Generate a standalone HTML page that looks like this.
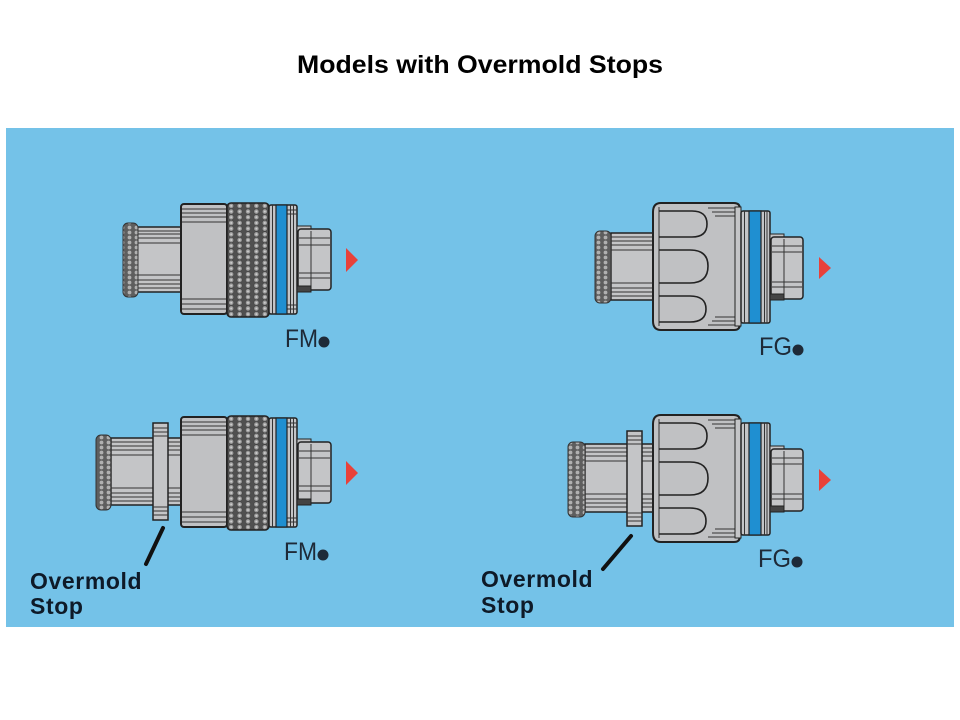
<!DOCTYPE html>
<html><head><meta charset="utf-8">
<style>
html,body{margin:0;padding:0;background:#fff;width:960px;height:720px;overflow:hidden}
svg{display:block}
</style></head><body>
<svg width="960" height="720" viewBox="0 0 960 720" xmlns="http://www.w3.org/2000/svg">
<defs>
<pattern id="kn" width="8.4" height="5.7" patternUnits="userSpaceOnUse" x="227" y="203">
<rect width="8.4" height="5.7" fill="#505050"/>
<circle cx="4.2" cy="2.85" r="2.6" fill="#9c9c9c" stroke="#3a3a3a" stroke-width="0.5"/>
<circle cx="4.2" cy="2.85" r="1" fill="#d0d0d0"/>
</pattern>
<pattern id="kr" width="7" height="5" patternUnits="userSpaceOnUse">
<rect width="7" height="5" fill="#5e5e5e"/>
<circle cx="3.5" cy="2.5" r="1.9" fill="#b0b0b0"/>
</pattern>
<g id="fmf">
 <rect x="181" y="204" width="46" height="110" rx="3" fill="#c0c1c3" stroke="#222" stroke-width="2"/>
 <path d="M182 209H226M182 213H226M182 217H226M182 222H226M182 299H226M182 304H226M182 309H226" stroke="#333" stroke-width="1"/>
 <rect x="227" y="203" width="42" height="114" rx="4" fill="url(#kn)" stroke="#222" stroke-width="1.5"/>
 <rect x="269" y="205" width="28" height="109" rx="2" fill="#c4c5c7" stroke="#222" stroke-width="1.5"/>
 <path d="M272.5 205V314M290.5 205V314M293.5 205V314M287 210H297M287 214H297M287 305H297M287 309H297" stroke="#333" stroke-width="1"/>
 <rect x="276" y="205" width="11" height="109" fill="#1f8fd1" stroke="#222" stroke-width="1.2"/>
 <rect x="297" y="226" width="14" height="6" fill="#c4c5c7" stroke="#222" stroke-width="1"/>
 <rect x="298" y="229" width="33" height="61" rx="3" fill="#c4c5c7" stroke="#222" stroke-width="1.5"/>
 <path d="M311 231V288M299 238H330M299 245H330M299 273H330M299 278H330" stroke="#333" stroke-width="1"/>
 <rect x="297" y="286" width="14" height="6" fill="#444" stroke="#222" stroke-width="1"/>
 <polygon points="346,248 358,260 346,272" fill="#e8413a"/>
</g>
<g id="fgf">
 <path d="M661 203 L734 203 Q740 203 740 209 L740 324 Q740 330 734 330 L661 330 Q653 330 653 321 L653 212 Q653 203 661 203 Z" fill="#c0c1c3" stroke="#222" stroke-width="2"/>
 <path d="M659 207V326" stroke="#333" stroke-width="1"/>
 <path d="M659 211 L692 211 Q707 211 707 224 Q707 237 692 237 L659 237" fill="none" stroke="#222" stroke-width="1.6"/>
 <path d="M659 250 L690 250 Q708 250 708 266 Q708 283 690 283 L659 283" fill="none" stroke="#222" stroke-width="1.6"/>
 <path d="M659 296 L690 296 Q706 296 706 309 Q706 322 690 322 L659 322" fill="none" stroke="#222" stroke-width="1.6"/>
 <path d="M708 208H737M712 212H737M715 216H737M708 325H737M712 321H737M715 317H737" stroke="#333" stroke-width="1"/>
 <rect x="735" y="207" width="6" height="119" fill="#c4c5c7" stroke="#222" stroke-width="1"/>
 <rect x="741" y="211" width="29" height="112" rx="2" fill="#c4c5c7" stroke="#222" stroke-width="1.5"/>
 <path d="M744.5 211V323M764.5 211V323M767 211V323" stroke="#333" stroke-width="1"/>
 <rect x="749" y="211" width="12" height="112" fill="#1f8fd1" stroke="#222" stroke-width="1.2"/>
 <rect x="770" y="234" width="14" height="6" fill="#c4c5c7" stroke="#222" stroke-width="1"/>
 <rect x="771" y="237" width="32" height="62" rx="3" fill="#c4c5c7" stroke="#222" stroke-width="1.5"/>
 <path d="M784 239V297M772 246H802M772 252H802M772 282H802M772 287H802" stroke="#333" stroke-width="1"/>
 <rect x="770" y="294" width="14" height="6" fill="#444" stroke="#222" stroke-width="1"/>
 <polygon points="819,257 831,268 819,279" fill="#e8413a"/>
</g>
</defs>

<rect x="6" y="128" width="948" height="499" fill="#74c2e8"/>

<text x="297" y="73" font-family="Liberation Sans, Arial, sans-serif" font-weight="bold" font-size="25" fill="#000" textLength="366" lengthAdjust="spacingAndGlyphs">Models with Overmold Stops</text>

<!-- Top FM -->
<rect x="137" y="227" width="45" height="65" fill="#c4c5c7" stroke="#222" stroke-width="1.5"/>
<path d="M137 231H181M137 234H181M137 238H181M137 243H181M137 275H181M137 280H181M137 284H181M137 288H181" stroke="#333" stroke-width="1"/>
<rect x="123" y="223" width="15" height="74" rx="5" fill="url(#kr)" stroke="#333" stroke-width="1"/>
<use href="#fmf"/>
<text x="285" y="347" font-family="Liberation Sans, Arial, sans-serif" font-size="25" fill="#1e2a38" textLength="33" lengthAdjust="spacingAndGlyphs">FM</text>
<circle cx="324" cy="342" r="5.5" fill="#1e2a38"/>

<!-- Top FG -->
<rect x="611" y="233" width="44" height="67" fill="#c4c5c7" stroke="#222" stroke-width="1.5"/>
<path d="M611 237H653M611 241H653M611 245H653M611 250H653M611 283H653M611 288H653M611 292H653M611 296H653" stroke="#333" stroke-width="1"/>
<rect x="595" y="231" width="16" height="72" rx="5" fill="url(#kr)" stroke="#333" stroke-width="1"/>
<use href="#fgf"/>
<text x="759" y="355" font-family="Liberation Sans, Arial, sans-serif" font-size="25" fill="#1e2a38" textLength="33" lengthAdjust="spacingAndGlyphs">FG</text>
<circle cx="798" cy="350" r="5.5" fill="#1e2a38"/>

<!-- Bottom FM -->
<rect x="111" y="438" width="71" height="67" fill="#c4c5c7" stroke="#222" stroke-width="1.5"/>
<path d="M111 442H181M111 446H181M111 450H181M111 455H181M111 488H181M111 493H181M111 497H181M111 501H181" stroke="#333" stroke-width="1"/>
<rect x="96" y="435" width="15" height="75" rx="5" fill="url(#kr)" stroke="#333" stroke-width="1"/>
<rect x="153" y="423" width="15" height="97" fill="#c4c5c7" stroke="#222" stroke-width="1.5"/>
<path d="M153 428H168M153 432H168M153 436H168M153 507H168M153 511H168M153 515H168" stroke="#333" stroke-width="1"/>
<use href="#fmf" transform="translate(0,213)"/>
<text x="284" y="560" font-family="Liberation Sans, Arial, sans-serif" font-size="25" fill="#1e2a38" textLength="33" lengthAdjust="spacingAndGlyphs">FM</text>
<circle cx="323" cy="555" r="5.5" fill="#1e2a38"/>
<line x1="163" y1="528" x2="146" y2="564" stroke="#111" stroke-width="4" stroke-linecap="round"/>
<text x="30" y="589" font-family="Liberation Sans, Arial, sans-serif" font-weight="bold" font-size="23" fill="#0e1a28" letter-spacing="0.6">Overmold</text>
<text x="30" y="614" font-family="Liberation Sans, Arial, sans-serif" font-weight="bold" font-size="23" fill="#0e1a28" letter-spacing="0.6">Stop</text>

<!-- Bottom FG -->
<rect x="585" y="444" width="72" height="68" fill="#c4c5c7" stroke="#222" stroke-width="1.5"/>
<path d="M585 448H655M585 452H655M585 456H655M585 461H655M585 494H655M585 499H655M585 503H655M585 507H655" stroke="#333" stroke-width="1"/>
<rect x="568" y="442" width="17" height="75" rx="5" fill="url(#kr)" stroke="#333" stroke-width="1"/>
<rect x="627" y="431" width="15" height="95" fill="#c4c5c7" stroke="#222" stroke-width="1.5"/>
<path d="M627 436H642M627 440H642M627 444H642M627 513H642M627 517H642M627 521H642" stroke="#333" stroke-width="1"/>
<use href="#fgf" transform="translate(0,212)"/>
<text x="758" y="567" font-family="Liberation Sans, Arial, sans-serif" font-size="25" fill="#1e2a38" textLength="33" lengthAdjust="spacingAndGlyphs">FG</text>
<circle cx="797" cy="562" r="5.5" fill="#1e2a38"/>
<line x1="631" y1="536" x2="603" y2="569" stroke="#111" stroke-width="4" stroke-linecap="round"/>
<text x="481" y="587" font-family="Liberation Sans, Arial, sans-serif" font-weight="bold" font-size="23" fill="#0e1a28" letter-spacing="0.6">Overmold</text>
<text x="481" y="613" font-family="Liberation Sans, Arial, sans-serif" font-weight="bold" font-size="23" fill="#0e1a28" letter-spacing="0.6">Stop</text>
</svg>
</body></html>
